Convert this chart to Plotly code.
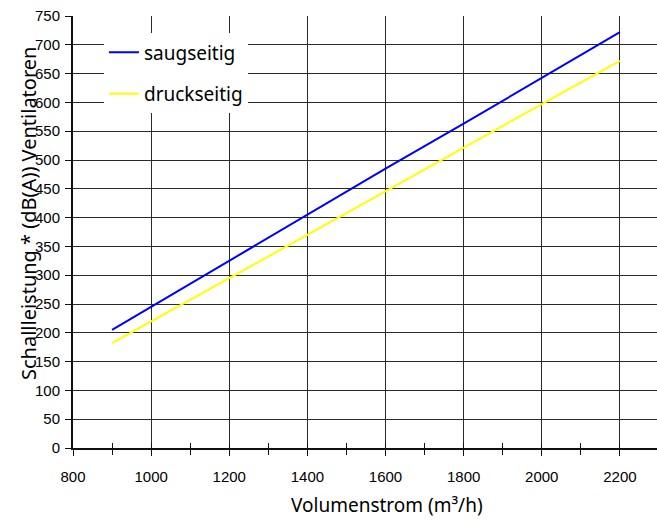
import plotly.graph_objects as go

volumen = [900, 1000, 1200, 1400, 1600, 1800, 2000, 2200]
saugseitig = [205, 245, 325, 405, 485, 563, 643, 722]
druckseitig = [182, 220, 295, 370, 446, 521, 597, 672]

fig = go.Figure()
fig.add_trace(go.Scatter(x=volumen, y=saugseitig, mode="lines", name="saugseitig",
                         line=dict(color="#0000ff", width=2), legendgroup="a"))
fig.add_trace(go.Scatter(x=volumen, y=druckseitig, mode="lines", name="druckseitig",
                         line=dict(color="#ffff00", width=2), legendgroup="b"))

W, H = 657, 520
L, R, T, B = 73, 0, 16, 72

fig.update_layout(
    width=W, height=H,
    margin=dict(l=L, r=R, t=T, b=B),
    paper_bgcolor="white", plot_bgcolor="white",
    font=dict(family="Liberation Sans, Arial", size=15, color="#000"),
    xaxis=dict(range=[800, 2295], tick0=800, dtick=200, showgrid=True,
               gridcolor="#2a2a2a", gridwidth=1, zeroline=False,
               showline=True, linecolor="#111", linewidth=2,
               ticks="outside", ticklen=6, tickcolor="#111", tickwidth=1,
               ticklabelstandoff=8,
               minor=dict(dtick=100, tick0=800, ticks="outside", ticklen=5,
                          tickcolor="#111", showgrid=False)),
    yaxis=dict(range=[0, 750], tick0=0, dtick=50, showgrid=True,
               gridcolor="#2a2a2a", gridwidth=1, zeroline=False,
               showline=True, linecolor="#111", linewidth=2,
               ticks="outside", ticklen=6, tickcolor="#111", tickwidth=1,
               ticklabelstandoff=2),
    xaxis2=dict(range=[800, 2295], overlaying="x", tick0=800, dtick=100,
                ticks="inside", ticklen=5, tickcolor="#111", showticklabels=False,
                showgrid=False, zeroline=False, side="bottom", showline=False),
    showlegend=True,
    legend=dict(x=0.053, y=0.96, xanchor="left", yanchor="top",
                bgcolor="white", borderwidth=0,
                font=dict(family="Noto Sans", size=19, color="#000"),
                tracegroupgap=14, traceorder="grouped"),
)

fig.add_trace(go.Scatter(x=[800], y=[0], xaxis="x2", mode="markers",
                         marker=dict(opacity=0), showlegend=False, hoverinfo="skip"))

fig.add_annotation(text="Volumenstrom (m³/h)", xref="paper", yref="paper",
                   x=(387 - L) / (W - L - R), y=-(505 - (H - B)) / (H - T - B),
                   xanchor="center", yanchor="middle", showarrow=False,
                   font=dict(family="Noto Sans", size=19, color="#000"))
fig.add_annotation(text="Schallleistung * (dB(A)) Ventilatoren", xref="paper", yref="paper",
                   x=-(L - 28) / (W - L - R), y=(H - B - 214) / (H - T - B),
                   xanchor="center", yanchor="middle", textangle=-90, showarrow=False,
                   font=dict(family="Noto Sans", size=20, color="#000"))

fig.write_html("out.html")
